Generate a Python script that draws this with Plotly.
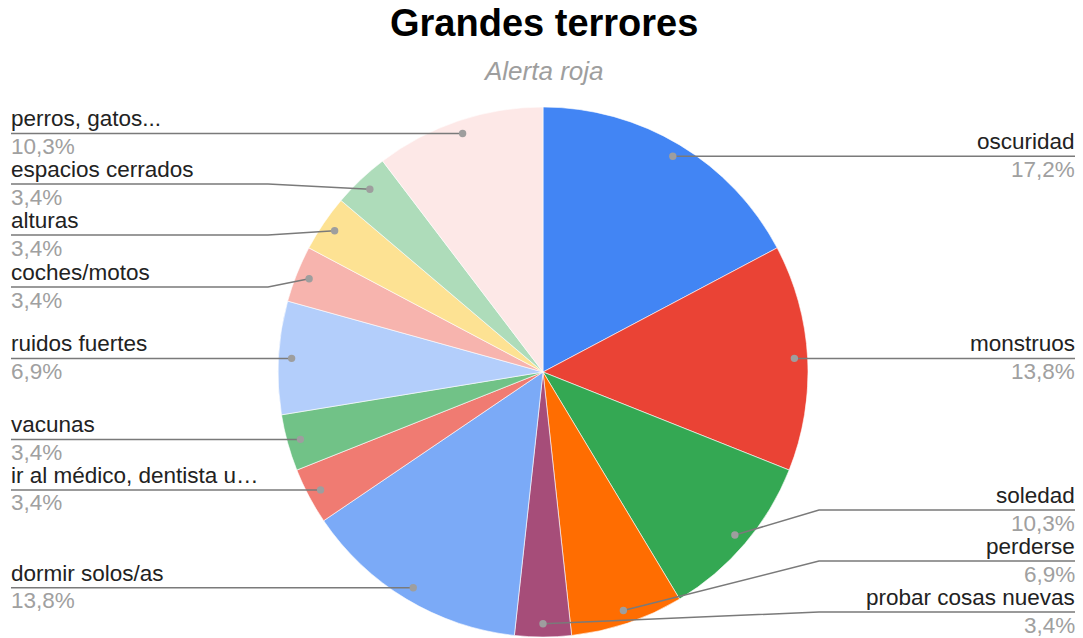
import math
import plotly.graph_objects as go

# Fear categories, counts and slice colours (clockwise from 12 o'clock)
labels = [
    "oscuridad", "monstruos", "soledad", "perderse", "probar cosas nuevas",
    "dormir solos/as", "ir al médico, dentista u…", "vacunas", "ruidos fuertes",
    "coches/motos", "alturas", "espacios cerrados", "perros, gatos...",
]
counts = [5, 4, 3, 2, 1, 4, 1, 1, 2, 1, 1, 1, 3]
colors = [
    "#4285f4", "#ea4335", "#34a853", "#ff6d01", "#a64d79",
    "#7baaf7", "#f07b72", "#71c287", "#b3cefb",
    "#f7b4ae", "#fde293", "#aedcba", "#fde8e7",
]

# Label placement: side of the chart and y of the label rule (None = level with the dot)
sides = ["R", "R", "R", "R", "R", "L", "L", "L", "L", "L", "L", "L", "L"]
rule_y = [None, None, 510, 561, 612, None, None, None, None, 287, 235, 184, None]

W, H = 1083, 638
CX, CY, R = 543, 372, 265          # pie centre and radius in pixels
DOT_R = 0.95 * R                   # where the leader dots sit
ELBOW_R, ELBOW_L = 819, 268        # x of the leader elbows
TEXT_R, TEXT_L = 1075, 11          # text edges

total = sum(counts)
fmt_pct = [f"{100 * c / total:.1f}".replace(".", ",") + "%" for c in counts]

fig = go.Figure()
fig.add_trace(go.Pie(
    labels=labels, values=counts, sort=False, direction="clockwise", rotation=0,
    marker=dict(colors=colors, line=dict(color="white", width=0.6)),
    textinfo="none", hoverinfo="label+percent", showlegend=False,
    domain=dict(x=[(CX - R) / W, (CX + R) / W], y=[(H - CY - R) / H, (H - CY + R) / H]),
))

shapes, annotations = [], []
line_style = dict(color="#7a7a7a", width=1.5)
font_name = dict(family="Liberation Sans, Arial, sans-serif", size=22.5, color="#222222")
font_pct = dict(family="Liberation Sans, Arial, sans-serif", size=22.5, color="#a0a0a0")

cum = 0
for lab, c, side, ry, pct in zip(labels, counts, sides, rule_y, fmt_pct):
    mid = (cum + c / 2) / total * 2 * math.pi
    cum += c
    dx = CX + DOT_R * math.sin(mid)
    dy = CY - DOT_R * math.cos(mid)
    ly = dy if ry is None else ry
    if side == "R":
        pts = [(dx, dy)] + ([] if ry is None else [(ELBOW_R, ly)]) + [(TEXT_R, ly)]
        tx, anchor = TEXT_R, "right"
    else:
        pts = [(dx, dy)] + ([] if ry is None else [(ELBOW_L, ly)]) + [(TEXT_L, ly)]
        tx, anchor = TEXT_L, "left"
    path = "M " + " L ".join(f"{px:.1f},{py:.1f}" for px, py in pts)
    shapes.append(dict(type="path", path=path, xref="x", yref="y",
                       line=line_style, layer="above"))
    shapes.append(dict(type="circle", xref="x", yref="y",
                       x0=dx - 3.7, x1=dx + 3.7, y0=dy - 3.7, y1=dy + 3.7,
                       fillcolor="#9e9e9e", line=dict(width=0), layer="above"))
    annotations.append(dict(text=lab, x=tx, y=ly - 14.5, xref="x", yref="y",
                            xanchor=anchor, yanchor="middle", showarrow=False,
                            borderpad=0, borderwidth=0, font=font_name))
    annotations.append(dict(text=pct, x=tx, y=ly + 13, xref="x", yref="y",
                            xanchor=anchor, yanchor="middle", showarrow=False,
                            borderpad=0, borderwidth=0, font=font_pct))

annotations.append(dict(text="<b>Grandes terrores</b>", x=543.5, y=23, xref="x", yref="y",
                        xanchor="center", yanchor="middle", showarrow=False,
                        font=dict(family="Liberation Sans, Arial, sans-serif", size=38,
                                  color="#000000")))
annotations.append(dict(text="<i>Alerta roja</i>", x=543.5, y=71, xref="x", yref="y",
                        xanchor="center", yanchor="middle", showarrow=False,
                        font=dict(family="Liberation Sans, Arial, sans-serif", size=26,
                                  color="#9e9e9e")))

fig.update_layout(
    width=W, height=H, margin=dict(l=0, r=0, t=0, b=0),
    paper_bgcolor="white", plot_bgcolor="rgba(0,0,0,0)",
    xaxis=dict(range=[0, W], visible=False, fixedrange=True),
    yaxis=dict(range=[H, 0], visible=False, fixedrange=True),
    shapes=shapes, annotations=annotations,
)

fig.write_html("out.html")
